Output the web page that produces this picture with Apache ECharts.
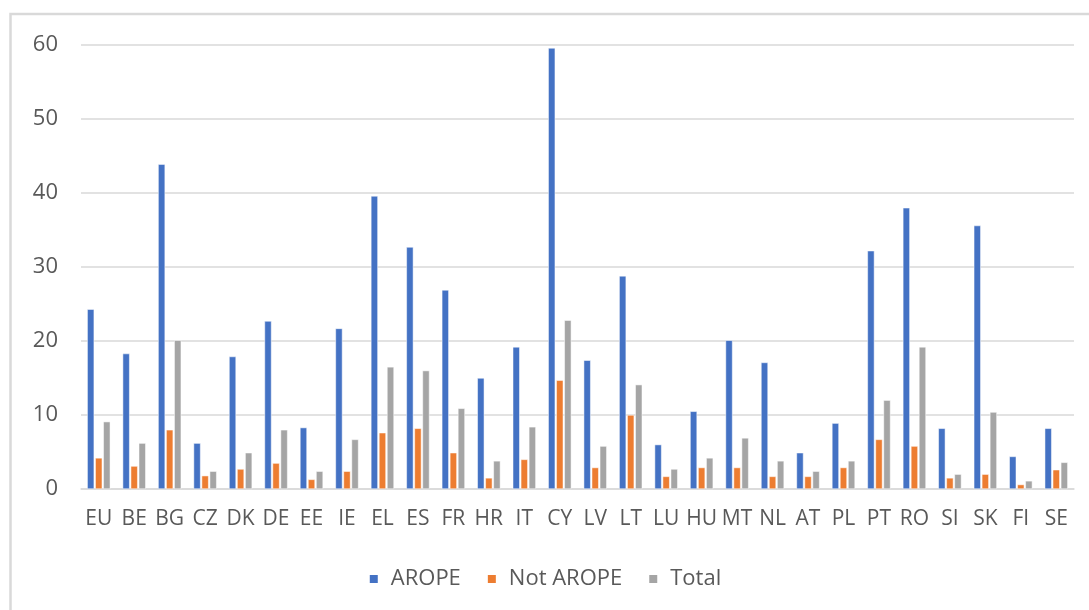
<!DOCTYPE html>
<html>
<head>
<meta charset="utf-8">
<script src="https://cdn.jsdelivr.net/npm/echarts@6/dist/echarts.min.js"></script>
<style>
html,body{margin:0;padding:0;background:#fff;}
#chart{width:1089px;height:610px;}
</style>
</head>
<body>
<div id="chart"></div>
<script>
const categories = ['EU','BE','BG','CZ','DK','DE','EE','IE','EL','ES','FR','HR','IT','CY','LV','LT','LU','HU','MT','NL','AT','PL','PT','RO','SI','SK','FI','SE'];
const arope    = [24.3,18.3,43.9,6.2,17.9,22.7,8.3,21.7,39.6,32.7,26.9,15.0,19.2,59.6,17.4,28.8,6.0,10.5,20.1,17.1,4.9,8.9,32.2,38.0,8.2,35.6,4.4,8.2];
const notArope = [4.2,3.1,8.0,1.8,2.7,3.5,1.3,2.4,7.6,8.2,4.9,1.5,4.0,14.7,2.9,10.0,1.7,2.9,2.9,1.7,1.7,2.9,6.7,5.8,1.5,2.0,0.6,2.6];
const total    = [9.1,6.2,20.1,2.4,4.9,8.0,2.4,6.7,16.5,16.0,10.9,3.8,8.4,22.8,5.8,14.1,2.7,4.2,6.9,3.8,2.4,3.8,12.0,19.2,2.0,10.4,1.1,3.6];
const seriesNames = ['AROPE','Not AROPE','Total'];
const yTicks = {min:0, max:60, interval:10};

const font = 'Open Sans, Liberation Sans, sans-serif';
const chart = echarts.init(document.getElementById('chart'), null, {renderer:'canvas'});
const barStyle = {borderColor:'#ffffff', borderWidth:0.5};
chart.setOption({
  animation:false,
  backgroundColor:'#ffffff',
  color:['#4472C4','#ED7D31','#A5A5A5'],
  graphic:[{
    type:'rect', shape:{x:10.5,y:14,width:1200,height:700},
    style:{fill:'none', stroke:'#d9d9d9', lineWidth:2.5}, silent:true
  }],
  grid:{left:81, right:15, top:45, bottom:121, containLabel:false},
  legend:{
    data:seriesNames, top:563, left:'center',
    icon:'rect', itemWidth:10, itemHeight:10, itemGap:25,
    textStyle:{color:'#595959', fontSize:22, fontFamily:font, padding:[0,0,0,7]}
  },
  xAxis:{
    type:'category', data:categories,
    axisLine:{lineStyle:{color:'#d9d9d9', width:1.5}},
    axisTick:{show:false},
    axisLabel:{interval:0, color:'#595959', fontSize:21, fontFamily:font, margin:20}
  },
  yAxis:{
    type:'value', min:yTicks.min, max:yTicks.max, interval:yTicks.interval,
    axisLine:{show:false}, axisTick:{show:false},
    splitLine:{lineStyle:{color:'#d9d9d9', width:1.5}},
    axisLabel:{color:'#595959', fontSize:22, fontFamily:font, margin:23}
  },
  series:[
    {name:seriesNames[0], type:'bar', data:arope, barWidth:7, barGap:'15%', itemStyle:barStyle},
    {name:seriesNames[1], type:'bar', data:notArope, barWidth:7, barGap:'15%', itemStyle:barStyle},
    {name:seriesNames[2], type:'bar', data:total, barWidth:7, barGap:'15%', itemStyle:barStyle}
  ]
});
</script>
</body>
</html>
